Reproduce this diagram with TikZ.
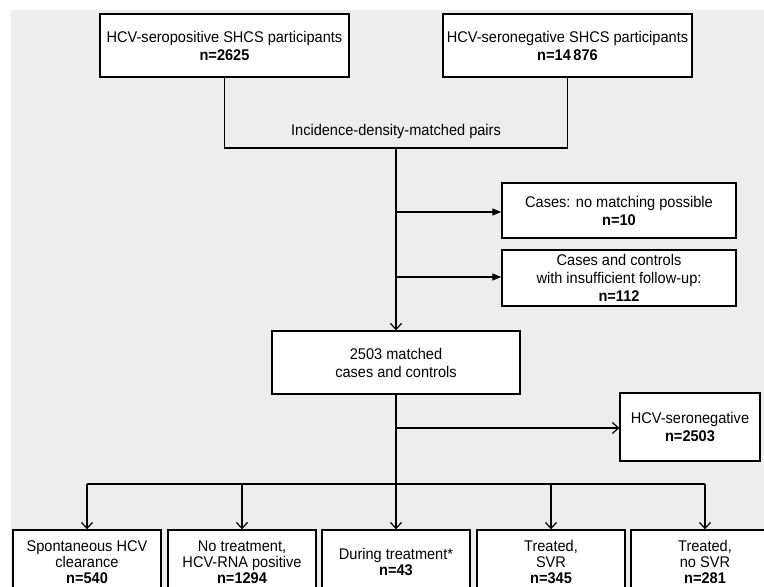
\documentclass[tikz,border=0pt]{standalone}
\usepackage{fontspec}
\setmainfont{Liberation Sans}[FakeStretch=0.94]
\usetikzlibrary{arrows.meta}
\definecolor{bg}{HTML}{EDEDED}
\begin{document}
\begin{tikzpicture}[x=1pt,y=-1pt,
  box/.style={draw=black, fill=white, line width=1.4pt, align=center, inner sep=0pt,
              font=\fontsize{15.5}{18}\selectfont},
  lowbox/.style={box, minimum width=148pt, minimum height=64pt,
              font=\fontsize{15.5}{16}\selectfont},
  lbl/.style={font=\fontsize{15.5}{18}\selectfont, inner sep=0pt},
  line/.style={line width=1.3pt},
  conn/.style={line width=1.3pt, -{Straight Barb[length=6pt,width=11pt,line width=1.2pt]}},
  connf/.style={line width=1.3pt, -{Triangle[length=9pt,width=7pt]}}]
\useasboundingbox (0,0) rectangle (764,587);
\clip (0,0) rectangle (764,587);
\fill[bg] (11,10) rectangle (764,587);

% top boxes
\node[box, minimum width=249pt, minimum height=63pt] (A) at (224.5,45.5)
  {HCV-seropositive SHCS participants\\\textbf{n=2625}};
\node[box, minimum width=249pt, minimum height=63pt] (B) at (567.5,45.5)
  {HCV-seronegative SHCS participants\\\textbf{n=14\,876}};

\coordinate (jc) at (396,148);
\draw[line] (A.south) -- (A.south |- jc) -- (B.south |- jc) -- (B.south);
\node[lbl] (pairs) at (396,131) {Incidence-density-matched pairs};

% exclusion boxes
\node[box, minimum width=234pt, minimum height=55pt] (C1) at (619,210.5)
  {Cases: no matching possible\\\textbf{n=10}};
\node[box, minimum width=234pt, minimum height=56pt] (C2) at (619,278)
  {Cases and controls\\ with insufficient follow-up:\\\textbf{n=112}};

% matched box
\node[box, minimum width=248pt, minimum height=63pt] (M) at (396,362.5)
  {2503 matched\\cases and controls};

\draw[conn] (jc) -- (M.north);
\coordinate (b1) at (396,212);
\coordinate (b2) at (396,277);
\draw[connf] (b1) -- (C1.west |- b1);
\draw[connf] (b2) -- (C2.west |- b2);

% seronegative box
\node[box, minimum width=140pt, minimum height=68pt] (N) at (690,427)
  {HCV-seronegative\\\textbf{n=2503}};
\coordinate (b3) at (396,428);
\coordinate (jb) at (396,484);
\draw[line] (M.south) -- (jb);
\draw[conn] (b3) -- (N.west |- b3);

% bottom boxes
\node[lowbox] (D1) at (87,562) {Spontaneous HCV\\clearance\\\textbf{n=540}};
\node[lowbox] (D2) at (242,562) {No treatment,\\HCV-RNA positive\\\textbf{n=1294}};
\node[lowbox] (D3) at (396,562) {During treatment*\\\textbf{n=43}};
\node[lowbox] (D4) at (551,562) {Treated,\\SVR\\\textbf{n=345}};
\node[lowbox] (D5) at (705,562) {Treated,\\no SVR\\\textbf{n=281}};

\draw[line] (D1.north |- jb) -- (D5.north |- jb);
\draw[conn] (D1.north |- jb) -- (D1.north);
\draw[conn] (D2.north |- jb) -- (D2.north);
\draw[conn] (jb) -- (D3.north);
\draw[conn] (D4.north |- jb) -- (D4.north);
\draw[conn] (D5.north |- jb) -- (D5.north);
\end{tikzpicture}
\end{document}
